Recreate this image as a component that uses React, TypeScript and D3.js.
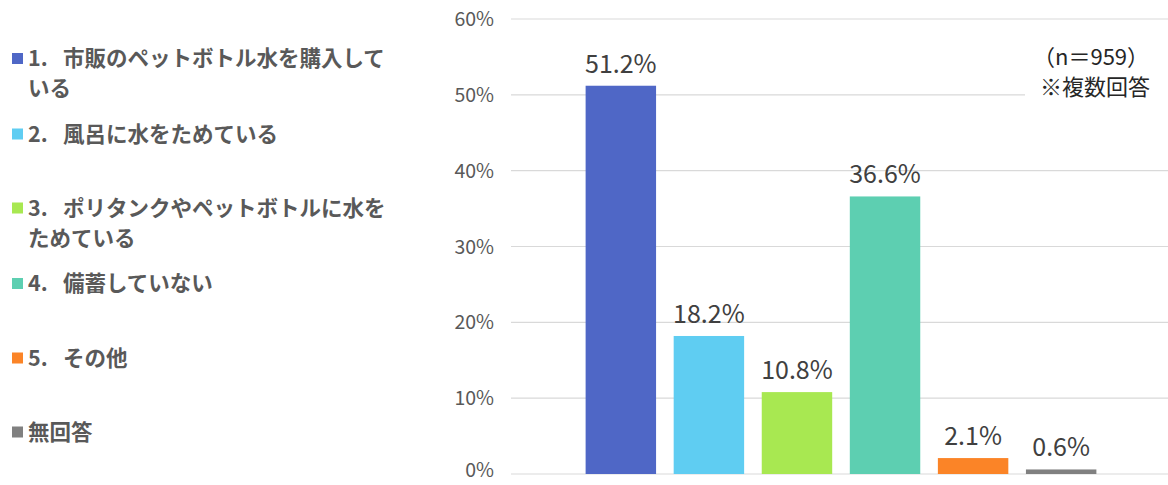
import * as d3 from "d3";

// chart data
const categories = ["1", "2", "3", "4", "5", "無回答"];
const values = [51.2, 18.2, 10.8, 36.6, 2.1, 0.6];
const colors = ["#4f67c6", "#5fcdf2", "#a8e851", "#5dcfb1", "#fb8427", "#808080"];
const legendNums = ["1.", "2.", "3.", "4.", "5.", ""];
const legendLines = [
  ["市販のペットボトル水を購入して", "いる"],
  ["風呂に水をためている"],
  ["ポリタンクやペットボトルに水を", "ためている"],
  ["備蓄していない"],
  ["その他"],
  ["無回答"],
];
const yTicks = [0, 10, 20, 30, 40, 50, 60];
const noteLines = ["（n＝959）", "※複数回答"];

const W = 1168, H = 485;
const legendY = [58.5, 134, 208, 283.5, 358, 432];
const font = "'Noto Sans CJK JP', 'Noto Sans', sans-serif";

const App = () => {
  const x = d3.scaleBand<string>().domain(categories).range([568, 1114]).padding(0.2);
  const y = d3.scaleLinear().domain([0, 60]).range([474, 19]);

  return (
    <svg width={W} height={H} style={{ position: "absolute", left: 0, top: 0 }} fontFamily={font}>
      <rect width={W} height={H} fill="#fff" />
      {/* grid + y ticks */}
      {yTicks.map(t => (
        <g key={t}>
          <line x1={511} x2={W} y1={y(t)} y2={y(t)} stroke="#d9d9d9" strokeWidth={1.2} />
          <text x={494} y={Math.min(y(t), 470)} dy="0.36em" textAnchor="end" fontSize={19.5} fill="#595959">
            {t}%
          </text>
        </g>
      ))}
      {/* note box */}
      <rect x={1025} y={30} width={143} height={76} fill="#fff" />
      {noteLines.map((s, i) => (
        <text key={i} x={i === 0 ? 1033 : 1040} y={65 + i * 30} fontSize={22} fill="#262626">{s}</text>
      ))}
      {/* bars */}
      {categories.map((c, i) => (
        <g key={c}>
          <rect x={x(c)!} y={y(values[i])} width={x.bandwidth()} height={y(0) - y(values[i])} fill={colors[i]} />
          <text x={x(c)! + x.bandwidth() / 2} y={y(values[i]) - 13} textAnchor="middle" fontSize={25} fill="#404040">
            {values[i].toFixed(1)}%
          </text>
        </g>
      ))}
      {/* legend */}
      {legendLines.map((lines, i) => (
        <g key={i}>
          <rect x={12} y={legendY[i] - 5.5} width={11} height={11} fill={colors[i]} />
          {lines.map((s, j) => (
            <text key={j} y={legendY[i] + j * 30} dy="0.36em" fontSize={21.5} fontWeight={700} fill="#595959">
              {j === 0 && legendNums[i] ? (
                <>
                  <tspan x={28}>{legendNums[i]}</tspan>
                  <tspan x={63}>{s}</tspan>
                </>
              ) : (
                <tspan x={28}>{s}</tspan>
              )}
            </text>
          ))}
        </g>
      ))}
    </svg>
  );
};

export default App;
